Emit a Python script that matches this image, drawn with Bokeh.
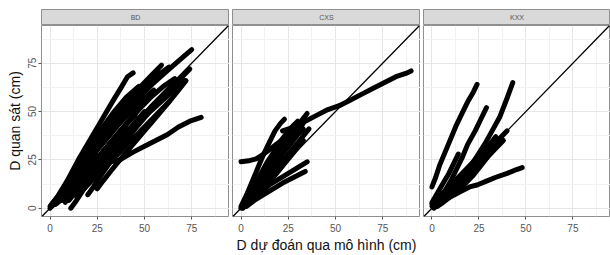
from bokeh.plotting import figure
from bokeh.models import Range1d, FixedTicker, Slope, ColumnDataSource
from bokeh.layouts import column, row
from bokeh.core.properties import value
from bokeh.embed import file_html
from bokeh.resources import INLINE

FONT = "Liberation Sans"

panel_names = ["BD", "CXS", "KXX"]
x_title = "D dự đoán qua mô hình (cm)"
y_title = "D quan sát (cm)"
tick_values = [0, 25, 50, 75]
tick_labels = ["0", "25", "50", "75"]
minor_values = [-12.5, 12.5, 37.5, 62.5, 87.5]

# ---- BD panel: predicted D (x) and observed D (y), one list per tree ----
bd_pred = [
    [0, 4, 9, 15, 21, 27, 33, 38, 41, 44],
    [1, 5, 10, 16, 23, 30, 38, 46, 54, 62, 69, 75],
    [2, 7, 13, 20, 27, 34, 41, 48, 54, 59],
    [3, 8, 14, 21, 29, 37, 45, 53, 61, 67, 71],
    [22, 27, 32, 37, 44, 50, 56, 62, 68, 74, 80],
    [11, 14, 18, 23, 29, 36, 43, 50],
    [20, 23, 27, 32, 38, 45, 52],
    [25, 28, 32, 37, 43, 50, 57, 63],
    [4, 8, 12, 17, 22, 28, 34, 40, 47],
    [6, 10, 15, 20, 26, 32, 39, 46, 53, 60, 66],
    [0, 3, 6, 10, 14, 19, 24, 30],
    [8, 12, 17, 22, 27, 33, 40],
    [5, 9, 13, 18, 24, 30, 36, 42, 49, 56, 63],
    [14, 18, 22, 27, 33, 40, 47, 55, 63, 68, 72],
    [3, 7, 11, 16, 21, 26, 31, 36, 42, 48, 54, 58],
    [7, 11, 15, 20, 25, 31, 37, 43, 49, 55],
    [10, 14, 18, 23, 28, 34, 40, 46, 52],
    [16, 20, 25, 30, 36, 42, 48, 54, 60, 65],
    [2, 5, 9, 13, 18, 23, 28],
    [12, 16, 20, 25, 30, 35, 40, 45],
    [18, 22, 26, 31, 36],
    [30, 35, 40, 46, 52, 58, 64, 70, 74],
]
bd_obs = [
    [1, 6, 14, 25, 35, 45, 55, 63, 68, 70],
    [2, 7, 13, 21, 30, 39, 48, 56, 64, 71, 77, 82],
    [3, 9, 17, 27, 37, 46, 55, 63, 69, 74],
    [2, 6, 12, 19, 27, 35, 43, 50, 57, 63, 66],
    [21, 23, 24, 25, 29, 32, 35, 38, 42, 45, 47],
    [0, 4, 10, 17, 25, 34, 42, 50],
    [7, 11, 17, 24, 32, 41, 49],
    [10, 14, 19, 25, 32, 40, 48, 55],
    [5, 11, 18, 26, 34, 42, 50, 57, 63],
    [4, 8, 14, 20, 27, 34, 42, 50, 57, 63, 67],
    [0, 3, 6, 10, 14, 19, 25, 31],
    [3, 8, 14, 20, 27, 34, 42],
    [7, 13, 19, 27, 35, 43, 50, 56, 62, 68, 73],
    [6, 10, 14, 19, 25, 32, 39, 47, 55, 61, 66],
    [4, 9, 15, 22, 29, 36, 43, 49, 55, 60, 66, 70],
    [5, 10, 16, 23, 30, 37, 44, 50, 56, 61],
    [4, 9, 15, 22, 29, 36, 43, 50, 57],
    [8, 13, 19, 25, 32, 39, 46, 53, 59, 64],
    [2, 6, 11, 17, 24, 31, 38],
    [9, 14, 19, 25, 31, 37, 43, 48],
    [12, 17, 22, 28, 33],
    [28, 33, 38, 44, 50, 56, 62, 68, 72],
]

# ---- CXS panel ----
cxs_pred = [
    [22, 28, 34, 40, 46, 52, 58, 64, 70, 76, 82, 88, 90],
    [0, 3, 7, 12, 17, 22, 27, 31, 35],
    [1, 5, 9, 14, 19, 24, 29, 33],
    [0, 4, 8, 12, 16, 20, 25, 30],
    [2, 6, 10, 15, 20, 25, 30, 35],
    [3, 7, 12, 17, 22, 28, 34],
    [1, 4, 8, 12, 16, 21, 26, 31, 36],
    [5, 9, 13, 18, 23, 28, 33],
    [2, 5, 9, 13, 17, 21, 25, 28],
    [0, 3, 6, 9, 12, 15, 18, 21, 23],
    [1, 4, 7, 10, 14, 18, 22, 26, 30],
    [2, 6, 10, 14, 18, 22, 26, 30, 33],
]
cxs_obs = [
    [40, 42, 45, 48, 51, 53, 56, 59, 62, 65, 68, 70, 71],
    [0, 5, 11, 18, 25, 32, 39, 44, 49],
    [1, 6, 12, 18, 25, 32, 38, 44],
    [24, 24.5, 25.5, 28, 31, 34, 38, 42],
    [1, 4, 8, 12, 15, 18, 21, 24],
    [1, 4, 7, 10, 13, 16, 19],
    [0, 3, 7, 12, 17, 23, 29, 35, 41],
    [3, 7, 12, 17, 23, 29, 35],
    [3, 8, 14, 20, 26, 32, 38, 43],
    [1, 7, 14, 21, 28, 34, 40, 44, 46],
    [1, 6, 11, 17, 24, 30, 36, 41, 45],
    [1, 5, 10, 16, 22, 28, 33, 38, 41],
]

# ---- KXX panel ----
kxx_pred = [
    [0, 2, 4, 7, 10, 13, 16, 19, 22, 24],
    [1, 4, 8, 12, 16, 20, 24, 28, 32, 36, 40, 43],
    [1, 4, 7, 10, 13, 16, 19, 23, 26, 29],
    [0, 3, 6, 9, 12, 14],
    [1, 4, 8, 12, 16, 20, 24, 29, 34, 40, 45, 48],
    [1, 5, 9, 14, 19, 24, 29, 34, 38],
    [2, 6, 10, 15, 20, 25, 30, 35, 40],
    [0, 4, 8, 12, 16, 20, 25, 30, 34],
    [3, 6, 10, 14, 18, 22, 26, 30, 33, 36],
    [0, 3, 6, 9, 12, 16, 20],
]
kxx_obs = [
    [11, 16, 22, 29, 36, 43, 49, 55, 60, 64],
    [1, 3, 6, 10, 15, 21, 27, 33, 40, 47, 57, 65],
    [2, 5, 9, 14, 20, 26, 33, 40, 46, 52],
    [3, 8, 13, 18, 24, 28],
    [1, 3, 5, 7, 9, 11, 12, 14, 16, 18, 20, 21],
    [0, 3, 7, 11, 16, 21, 26, 31, 35],
    [1, 4, 8, 13, 18, 23, 29, 35, 40],
    [2, 6, 10, 14, 18, 22, 27, 32, 37],
    [1, 3, 6, 9, 13, 17, 22, 27, 31, 34],
    [1, 4, 7, 10, 13, 17, 21],
]

panels_pred = [bd_pred, cxs_pred, kxx_pred]
panels_obs = [bd_obs, cxs_obs, kxx_obs]

X_RANGE = (-4.5, 95.0)
Y_RANGE = (-4.3, 94.5)

BORDER = "#8f8f8f"
GRID_MAJOR = "#e6e6e6"
GRID_MINOR = "#f2f2f2"

FRAME_WS = [188, 188, 187]
LEFTS = [41, 3, 3]
STRIP_TOP = 9
STRIP_H = 16
FRAME_H = 192
BOTTOM = 38

strips = []
panels = []
for i, name in enumerate(panel_names):
    ml = LEFTS[i]
    w = ml + FRAME_WS[i]
    xr = Range1d(*X_RANGE)
    yr = Range1d(*Y_RANGE)

    # strip
    s = figure(width=w, height=STRIP_TOP + STRIP_H, x_range=xr, y_range=Range1d(0, 1),
               output_backend="svg", toolbar_location=None,
               min_border_left=ml, min_border_right=0, min_border_top=STRIP_TOP,
               min_border_bottom=0)
    s.axis.visible = False
    s.grid.visible = False
    s.background_fill_color = "#d9d9d9"
    s.outline_line_color = BORDER
    s.text(x=[(X_RANGE[0] + X_RANGE[1]) / 2], y=[0.5], text=[name],
           text_font=value(FONT), text_font_size="7px", text_color="#555555",
           text_align="center", text_baseline="middle")
    strips.append(s)

    # panel
    p = figure(width=w, height=FRAME_H + BOTTOM, x_range=xr, y_range=yr,
               output_backend="svg", toolbar_location=None,
               min_border_left=ml, min_border_right=0, min_border_top=0,
               min_border_bottom=BOTTOM)
    p.background_fill_color = "white"
    p.outline_line_color = BORDER
    p.outline_line_width = 1

    for ax in (p.xaxis[0], p.yaxis[0]):
        ax.ticker = FixedTicker(ticks=tick_values, minor_ticks=minor_values)
        ax.major_label_overrides = {v: l for v, l in zip(tick_values, tick_labels)}
        ax.axis_line_color = None
        ax.major_tick_line_color = "#555555"
        ax.major_tick_out = 3
        ax.major_tick_in = 0
        ax.minor_tick_line_color = None
        ax.major_label_text_font = FONT
        ax.major_label_text_font_size = "10px"
        ax.major_label_text_color = "#555555"
        ax.major_label_standoff = 3
        ax.axis_label_text_font = FONT
        ax.axis_label_text_font_size = "14px"
        ax.axis_label_text_font_style = "normal"
        ax.axis_label_text_color = "#111111"
        ax.axis_label_standoff = 2

    p.yaxis[0].major_label_orientation = "vertical"
    p.yaxis[0].major_label_standoff = 1
    p.yaxis[0].axis_label_standoff = 3
    if i == 0:
        p.yaxis[0].axis_label = y_title
    else:
        p.yaxis[0].visible = False
    if i == 1:
        p.xaxis[0].axis_label = x_title

    p.xgrid.grid_line_color = GRID_MAJOR
    p.ygrid.grid_line_color = GRID_MAJOR
    p.xgrid.minor_grid_line_color = GRID_MINOR
    p.ygrid.minor_grid_line_color = GRID_MINOR
    p.xgrid.ticker = FixedTicker(ticks=tick_values, minor_ticks=minor_values)
    p.ygrid.ticker = FixedTicker(ticks=tick_values, minor_ticks=minor_values)

    src = ColumnDataSource(dict(xs=panels_pred[i], ys=panels_obs[i]))
    p.multi_line(xs="xs", ys="ys", source=src, line_color="black", line_width=5,
                 line_join="round", line_cap="round")

    p.add_layout(Slope(gradient=1, y_intercept=0, line_color="black", line_width=1.3))
    panels.append(p)

layout = column(row(*strips), row(*panels))
open("out.html", "w").write(file_html(layout, INLINE))
